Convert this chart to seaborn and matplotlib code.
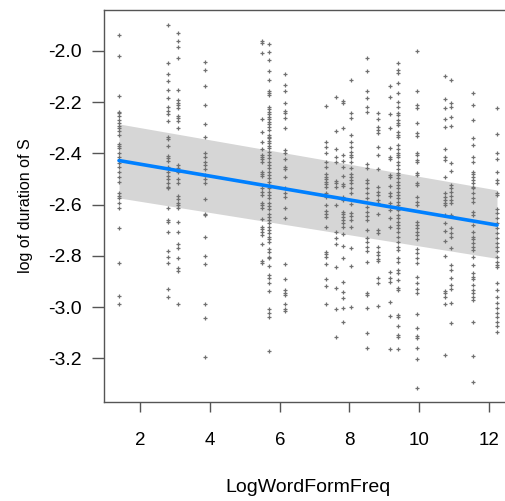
import seaborn as sns
import pandas as pd
import matplotlib.pyplot as plt

# x positions of the word-frequency groups
freq_levels = [1.39, 2.80, 3.08, 3.87, 5.48, 5.70, 6.14, 7.34, 7.60, 7.80,
               8.03, 8.51, 8.83, 9.16, 9.40, 9.95, 10.74, 10.91, 11.54, 12.23]

# partial residuals, log duration of S, one list per group
dur_01 = [-1.936, -2.018, -2.176, -2.237, -2.243, -2.253, -2.270, -2.282, -2.293, -2.302,
          -2.311, -2.328, -2.364, -2.371, -2.380, -2.400, -2.413, -2.439, -2.452, -2.471,
          -2.491, -2.513, -2.556, -2.565, -2.575, -2.593, -2.612, -2.693, -2.828, -2.956, -2.990]
dur_02 = [-1.897, -2.048, -2.091, -2.117, -2.152, -2.185, -2.220, -2.233, -2.246, -2.272,
          -2.335, -2.345, -2.371, -2.410, -2.419, -2.429, -2.452, -2.471, -2.488, -2.501,
          -2.517, -2.530, -2.536, -2.612, -2.660, -2.668, -2.708, -2.780, -2.804, -2.828,
          -2.931, -2.961]
dur_03 = [-1.931, -1.960, -1.983, -2.029, -2.152, -2.191, -2.202, -2.212, -2.224, -2.254,
          -2.263, -2.272, -2.302, -2.445, -2.458, -2.471, -2.501, -2.517, -2.566, -2.578,
          -2.593, -2.602, -2.614, -2.668, -2.706, -2.755, -2.771, -2.810, -2.849, -2.859, -2.989]
dur_04 = [-2.044, -2.074, -2.137, -2.211, -2.286, -2.335, -2.397, -2.413, -2.432, -2.445,
          -2.462, -2.484, -2.501, -2.517, -2.579, -2.637, -2.642, -2.727, -2.800, -2.833,
          -2.989, -3.042, -3.194]
dur_05 = [-1.960, -1.968, -2.009, -2.267, -2.315, -2.354, -2.384, -2.406, -2.413, -2.423,
          -2.432, -2.471, -2.480, -2.488, -2.536, -2.550, -2.563, -2.593, -2.602, -2.612,
          -2.657, -2.686, -2.696, -2.706, -2.719, -2.754, -2.820, -2.829]
dur_06 = [-1.974, -2.003, -2.035, -2.077, -2.113, -2.155, -2.163, -2.172, -2.220, -2.228,
          -2.237, -2.246, -2.257, -2.267, -2.276, -2.285, -2.296, -2.309, -2.328, -2.335,
          -2.341, -2.350, -2.361, -2.371, -2.380, -2.393, -2.406, -2.419, -2.432, -2.445,
          -2.458, -2.471, -2.484, -2.497, -2.511, -2.523, -2.536, -2.550, -2.563, -2.575,
          -2.593, -2.605, -2.618, -2.638, -2.647, -2.660, -2.673, -2.686, -2.699, -2.712,
          -2.725, -2.736, -2.745, -2.775, -2.784, -2.804, -2.810, -2.839, -2.875, -2.888,
          -2.908, -2.936, -3.007, -3.025, -3.040, -3.171]
dur_07 = [-2.090, -2.133, -2.155, -2.204, -2.233, -2.241, -2.263, -2.302, -2.387, -2.397,
          -2.423, -2.452, -2.462, -2.491, -2.536, -2.554, -2.569, -2.614, -2.654, -2.833,
          -2.892, -2.934, -2.944, -2.953, -2.989, -3.008, -3.016]
dur_08 = [-2.215, -2.354, -2.374, -2.397, -2.432, -2.452, -2.480, -2.491, -2.501, -2.511,
          -2.521, -2.530, -2.554, -2.569, -2.602, -2.624, -2.638, -2.647, -2.686, -2.784,
          -2.793, -2.804, -2.833, -2.892, -2.918, -2.989]
dur_09 = [-2.181, -2.313, -2.384, -2.413, -2.432, -2.507, -2.517, -2.532, -2.602, -2.706,
          -2.732, -2.755, -2.843, -2.927, -3.008, -3.116]
dur_10 = [-2.195, -2.204, -2.302, -2.406, -2.429, -2.454, -2.488, -2.520, -2.527, -2.569,
          -2.582, -2.628, -2.638, -2.650, -2.660, -2.673, -2.686, -2.715, -2.762, -2.810,
          -2.901, -2.940, -2.966, -3.005, -3.059]
dur_11 = [-2.113, -2.243, -2.263, -2.328, -2.354, -2.374, -2.393, -2.406, -2.413, -2.432,
          -2.458, -2.480, -2.491, -2.504, -2.517, -2.536, -2.554, -2.598, -2.634, -2.645,
          -2.660, -2.686, -2.771, -2.839, -2.999]
dur_12 = [-2.029, -2.078, -2.156, -2.185, -2.220, -2.237, -2.441, -2.458, -2.504, -2.517,
          -2.536, -2.556, -2.575, -2.611, -2.628, -2.645, -2.660, -2.699, -2.732, -2.745,
          -2.764, -2.780, -2.823, -2.944, -2.953, -3.003, -3.103, -3.159]
dur_13 = [-2.243, -2.267, -2.298, -2.309, -2.321, -2.376, -2.406, -2.462, -2.530, -2.550,
          -2.563, -2.582, -2.593, -2.637, -2.699, -2.712, -2.764, -2.784, -2.797, -2.814,
          -2.819, -2.888, -2.905, -2.996]
dur_14 = [-2.137, -2.181, -2.246, -2.302, -2.380, -2.413, -2.423, -2.484, -2.491, -2.526,
          -2.556, -2.566, -2.595, -2.621, -2.654, -2.689, -2.862, -2.888, -2.901, -2.979,
          -3.035, -3.165]
dur_15 = [-2.048, -2.074, -2.085, -2.126, -2.165, -2.198, -2.218, -2.241, -2.250, -2.270,
          -2.280, -2.289, -2.315, -2.328, -2.337, -2.367, -2.384, -2.397, -2.406, -2.415,
          -2.432, -2.445, -2.462, -2.475, -2.484, -2.497, -2.511, -2.523, -2.536, -2.550,
          -2.563, -2.575, -2.589, -2.602, -2.614, -2.621, -2.641, -2.654, -2.667, -2.680,
          -2.693, -2.706, -2.725, -2.745, -2.764, -2.777, -2.810, -2.823, -2.855, -2.866,
          -2.895, -2.927, -2.934, -3.031, -3.040, -3.074, -3.109, -3.118, -3.165]
dur_16 = [-2.000, -2.156, -2.211, -2.224, -2.282, -2.321, -2.332, -2.397, -2.406, -2.426,
          -2.432, -2.475, -2.484, -2.517, -2.523, -2.569, -2.589, -2.602, -2.667, -2.680,
          -2.693, -2.706, -2.719, -2.736, -2.775, -2.790, -2.810, -2.827, -2.882, -2.907,
          -2.931, -2.946, -3.029, -3.081, -3.113, -3.122, -3.161, -3.204, -3.318]
dur_17 = [-2.096, -2.189, -2.224, -2.267, -2.296, -2.384, -2.415, -2.426, -2.491, -2.554,
          -2.569, -2.582, -2.595, -2.602, -2.641, -2.673, -2.702, -2.741, -2.801, -2.936,
          -2.946, -2.960, -2.988, -3.188]
dur_18 = [-2.113, -2.202, -2.220, -2.257, -2.293, -2.436, -2.468, -2.523, -2.536, -2.550,
          -2.566, -2.582, -2.595, -2.641, -2.693, -2.712, -2.725, -2.771, -2.836, -2.855,
          -2.888, -2.914, -2.931, -2.986, -3.064]
dur_19 = [-2.163, -2.211, -2.270, -2.341, -2.367, -2.413, -2.432, -2.471, -2.480, -2.491,
          -2.504, -2.517, -2.530, -2.536, -2.556, -2.575, -2.589, -2.628, -2.641, -2.680,
          -2.706, -2.725, -2.736, -2.749, -2.764, -2.777, -2.806, -2.836, -2.868, -2.882,
          -2.892, -2.914, -2.934, -2.946, -2.960, -2.973, -3.057, -3.190, -3.292]
dur_20 = [-2.224, -2.324, -2.400, -2.423, -2.471, -2.504, -2.517, -2.554, -2.563, -2.618,
          -2.634, -2.654, -2.671, -2.693, -2.712, -2.732, -2.749, -2.764, -2.780, -2.804,
          -2.823, -2.836, -2.843, -2.907, -2.934, -2.960, -2.986, -3.005, -3.025, -3.040,
          -3.057, -3.074, -3.096]

# fitted effect and its confidence band at the ends of the range
effect_x = [1.39, 12.23]
effect_fit = [-2.428, -2.680]
effect_lower = [-2.574, -2.810]
effect_upper = [-2.285, -2.543]

columns = [dur_01, dur_02, dur_03, dur_04, dur_05, dur_06, dur_07, dur_08, dur_09, dur_10,
           dur_11, dur_12, dur_13, dur_14, dur_15, dur_16, dur_17, dur_18, dur_19, dur_20]
rows = []
for x, ys in zip(freq_levels, columns):
    for y in ys:
        rows.append((x, y))
points = pd.DataFrame(rows, columns=['LogWordFormFreq', 'LogDurS'])
effect = pd.DataFrame({'x': effect_x, 'fit': effect_fit})

sns.set_theme(style='white')
plt.rcParams['font.family'] = ['Liberation Sans', 'DejaVu Sans']
plt.rcParams['axes.unicode_minus'] = False

fig = plt.figure(figsize=(5.05, 5.01), dpi=100)
ax = fig.add_axes([104 / 505, 99 / 501, 408 / 505, 392 / 501])

ax.fill_between(effect_x, effect_lower, effect_upper, color='#d6d6d6', linewidth=0, zorder=1)
sns.scatterplot(data=points, x='LogWordFormFreq', y='LogDurS', marker='+', s=11,
                color='#707070', linewidth=0.9, ax=ax, zorder=2)
sns.lineplot(data=effect, x='x', y='fit', color='#0080ff', linewidth=2.6, ax=ax, zorder=3)

ax.set_xlim(0.96, 12.66)
ax.set_ylim(-3.371, -1.84)
ax.set_xticks([2, 4, 6, 8, 10, 12])
ax.set_yticks([-3.2, -3.0, -2.8, -2.6, -2.4, -2.2, -2.0])
ax.set_yticklabels(['-3.2', '-3.0', '-2.8', '-2.6', '-2.4', '-2.2', '-2.0'])
ax.set_xlabel('LogWordFormFreq', fontsize=14, color='black', labelpad=22)
ax.set_ylabel('log of duration of S', fontsize=11.5, color='black', labelpad=11)

for side in ax.spines.values():
    side.set_color('#555555')
    side.set_linewidth(1.0)
ax.tick_params(axis='both', which='major', width=1.0, color='#555555',
               labelcolor='black', bottom=True, left=True)
ax.tick_params(axis='x', length=7.5, pad=14, labelsize=13.5)
ax.tick_params(axis='y', length=9, pad=7, labelsize=14)

fig.savefig('out.png', dpi=100)
